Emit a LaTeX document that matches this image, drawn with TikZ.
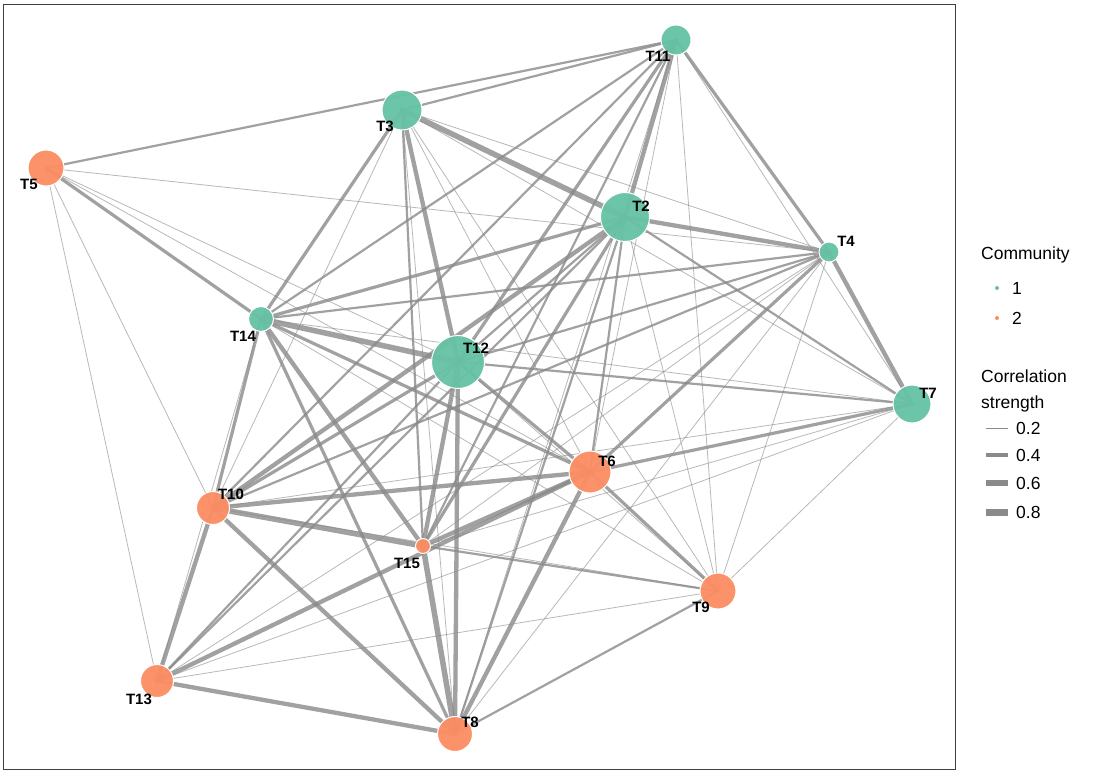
\documentclass[tikz,border=0pt]{standalone}
\usepackage{fontspec}
\setmainfont{Liberation Sans}
\definecolor{cteal}{HTML}{66C2A5}
\definecolor{corange}{HTML}{FC8D62}
\definecolor{edgec}{HTML}{8A8A8A}
\tikzset{
  edge/.style={draw=edgec, draw opacity=0.8, line cap=round},
  wa/.style={edge, line width=0.8pt, draw opacity=0.6},
  wb/.style={edge, line width=2.2pt},
  wc/.style={edge, line width=3.2pt},
  wd/.style={edge, line width=4.3pt},
  we/.style={edge, line width=5.5pt},
  vert/.style={circle, draw=white, line width=1pt, inner sep=0pt, fill opacity=0.95},
  cA/.style={vert, fill=cteal},
  cB/.style={vert, fill=corange},
  lab/.style={font=\bfseries\fontsize{15}{15}\selectfont, inner sep=0pt},
  leg/.style={font=\fontsize{17.5}{17.5}\selectfont, inner sep=0pt, anchor=west},
  legline/.style={draw=edgec, line cap=butt}
}
\begin{document}
\begin{tikzpicture}[x=1pt,y=-1pt]
\useasboundingbox (0,0) rectangle (1115,773);
\fill[white] (0,0) rectangle (1115,773);
% node coordinates
\coordinate (p11) at (676,40);
\coordinate (p3) at (402,110);
\coordinate (p5) at (46,168);
\coordinate (p2) at (625,217);
\coordinate (p4) at (829,252);
\coordinate (p14) at (261,319);
\coordinate (p12) at (458,362);
\coordinate (p7) at (912,404);
\coordinate (p6) at (590,472);
\coordinate (p10) at (213,508);
\coordinate (p15) at (423,546);
\coordinate (p9) at (718,591);
\coordinate (p13) at (157,681);
\coordinate (p8) at (455,734);
% edges
\draw[wb] (p5) -- (p11);
\draw[wa] (p5) -- (p4);
\draw[wc] (p5) -- (p14);
\draw[wa] (p5) -- (p12);
\draw[wa] (p5) -- (p6);
\draw[wa] (p5) -- (p10);
\draw[wa] (p5) -- (p13);
\draw[wb] (p11) -- (p3);
\draw[wb] (p11) -- (p14);
\draw[wd] (p11) -- (p2);
\draw[wc] (p11) -- (p12);
\draw[wb] (p11) -- (p10);
\draw[wb] (p11) -- (p15);
\draw[wa] (p11) -- (p6);
\draw[wa] (p11) -- (p8);
\draw[wc] (p11) -- (p4);
\draw[wa] (p11) -- (p7);
\draw[wa] (p11) -- (p9);
\draw[we] (p3) -- (p2);
\draw[wc] (p3) -- (p14);
\draw[wd] (p3) -- (p12);
\draw[wb] (p3) -- (p15);
\draw[wa] (p3) -- (p10);
\draw[wa] (p3) -- (p6);
\draw[wa] (p3) -- (p9);
\draw[wa] (p3) -- (p4);
\draw[wa] (p3) -- (p7);
\draw[wa] (p3) -- (p8);
\draw[wd] (p2) -- (p4);
\draw[wc] (p2) -- (p14);
\draw[wb] (p2) -- (p12);
\draw[wd] (p2) -- (p10);
\draw[wb] (p2) -- (p13);
\draw[wc] (p2) -- (p15);
\draw[wb] (p2) -- (p8);
\draw[wb] (p2) -- (p6);
\draw[wa] (p2) -- (p9);
\draw[wb] (p2) -- (p7);
\draw[wd] (p4) -- (p7);
\draw[wb] (p4) -- (p14);
\draw[wb] (p4) -- (p12);
\draw[wb] (p4) -- (p10);
\draw[wc] (p4) -- (p6);
\draw[wa] (p4) -- (p15);
\draw[wa] (p4) -- (p8);
\draw[wa] (p4) -- (p9);
\draw[wa] (p4) -- (p13);
\draw[we] (p14) -- (p12);
\draw[wc] (p14) -- (p10);
\draw[wd] (p14) -- (p15);
\draw[wc] (p14) -- (p8);
\draw[wc] (p14) -- (p6);
\draw[wa] (p14) -- (p9);
\draw[wa] (p14) -- (p7);
\draw[wa] (p14) -- (p13);
\draw[wc] (p12) -- (p6);
\draw[wd] (p12) -- (p15);
\draw[wd] (p12) -- (p8);
\draw[wc] (p12) -- (p10);
\draw[wb] (p12) -- (p13);
\draw[wb] (p12) -- (p7);
\draw[wa] (p12) -- (p9);
\draw[wc] (p7) -- (p6);
\draw[wa] (p7) -- (p10);
\draw[wa] (p7) -- (p15);
\draw[wa] (p7) -- (p13);
\draw[wa] (p7) -- (p9);
\draw[wd] (p6) -- (p10);
\draw[wd] (p6) -- (p15);
\draw[wd] (p6) -- (p13);
\draw[wd] (p6) -- (p8);
\draw[wc] (p6) -- (p9);
\draw[we] (p10) -- (p15);
\draw[wd] (p10) -- (p13);
\draw[wd] (p10) -- (p8);
\draw[wa] (p10) -- (p9);
\draw[we] (p15) -- (p8);
\draw[wb] (p15) -- (p9);
\draw[wa] (p9) -- (p13);
\draw[wb] (p9) -- (p8);
\draw[wd] (p13) -- (p8);
% vertices
\node[cA, minimum size=30pt] (n11) at (p11) {};
\node[cA, minimum size=40pt] (n3) at (p3) {};
\node[cB, minimum size=36pt] (n5) at (p5) {};
\node[cA, minimum size=49pt] (n2) at (p2) {};
\node[cA, minimum size=20pt] (n4) at (p4) {};
\node[cA, minimum size=25pt] (n14) at (p14) {};
\node[cA, minimum size=53pt] (n12) at (p12) {};
\node[cA, minimum size=38pt] (n7) at (p7) {};
\node[cB, minimum size=42pt] (n6) at (p6) {};
\node[cB, minimum size=33pt] (n10) at (p10) {};
\node[cB, minimum size=15pt] (n15) at (p15) {};
\node[cB, minimum size=36pt] (n9) at (p9) {};
\node[cB, minimum size=33pt] (n13) at (p13) {};
\node[cB, minimum size=35pt] (n8) at (p8) {};
% labels
\node[lab] (l11) at (658,56) {T11};
\node[lab] (l3) at (385,126) {T3};
\node[lab] (l5) at (29,184) {T5};
\node[lab] (l2) at (641,206) {T2};
\node[lab] (l4) at (846,241) {T4};
\node[lab] (l14) at (243,336) {T14};
\node[lab] (l12) at (476,348) {T12};
\node[lab] (l7) at (928,393) {T7};
\node[lab] (l6) at (607,461) {T6};
\node[lab] (l10) at (231,494) {T10};
\node[lab] (l15) at (407,563) {T15};
\node[lab] (l9) at (701,607) {T9};
\node[lab] (l13) at (139,699) {T13};
\node[lab] (l8) at (470,722) {T8};
% panel border
\draw[line width=1pt, draw=black!75] (3,5) rectangle (955,769);
% legend
\node[leg] (lgc) at (981,255) {Community};
\node[circle, fill=cteal, inner sep=0pt, minimum size=4pt] (lgd1) at (997,288) {};
\node[leg] (lg1) at (1012,288) {1};
\node[circle, fill=corange, inner sep=0pt, minimum size=4pt] (lgd2) at (997,318) {};
\node[leg] (lg2) at (1012,318) {2};
\node[leg] (lgt1) at (981,376) {Correlation};
\node[leg] (lgt2) at (981,404) {strength};
\coordinate (a1) at (986,428); \coordinate (b1) at (1008,428);
\coordinate (a2) at (986,455); \coordinate (b2) at (1008,455);
\coordinate (a3) at (986,483); \coordinate (b3) at (1008,483);
\coordinate (a4) at (986,512); \coordinate (b4) at (1008,512);
\draw[legline, line width=1pt] (a1) -- (b1);
\draw[legline, line width=4pt] (a2) -- (b2);
\draw[legline, line width=5.5pt] (a3) -- (b3);
\draw[legline, line width=7pt] (a4) -- (b4);
\node[leg] (lv1) at (1016,428) {0.2};
\node[leg] (lv2) at (1016,455) {0.4};
\node[leg] (lv3) at (1016,483) {0.6};
\node[leg] (lv4) at (1016,512) {0.8};
\end{tikzpicture}
\end{document}
